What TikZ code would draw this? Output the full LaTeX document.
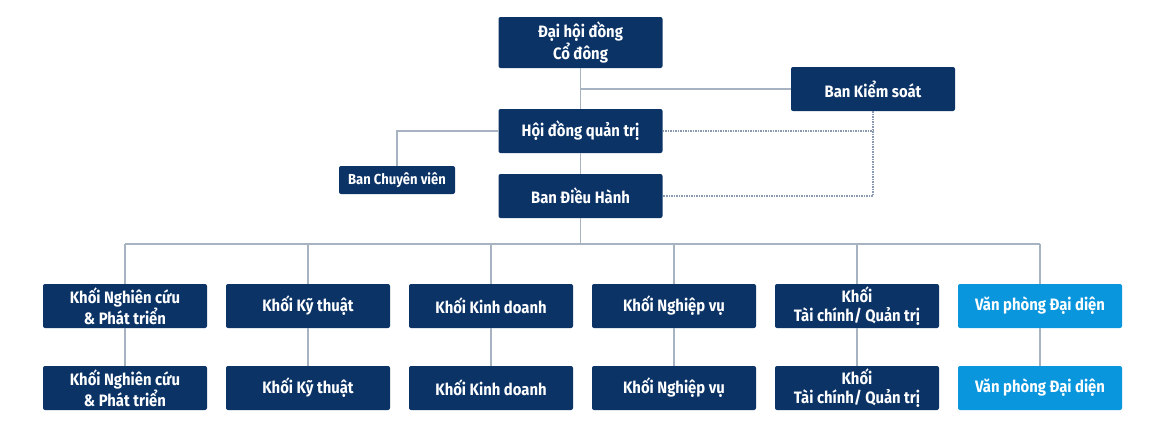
\documentclass[tikz,border=0pt]{standalone}
\usepackage{fontspec}
\setmainfont{Fira Sans}[FakeStretch=0.9]
\usepackage{tikz}
\definecolor{navy}{HTML}{0B3366}
\definecolor{sky}{HTML}{0A96DD}
\definecolor{linegrey}{HTML}{A8B3C1}
\tikzset{
  unit/.style={fill=navy, text=white, rounded corners=2pt, align=center,
    minimum width=164pt, minimum height=44pt, inner sep=0pt,
    font=\fontsize{16.5}{19}\selectfont\bfseries},
  dark/.style={unit},
  light/.style={unit, fill=sky},
  link/.style={draw=linegrey, line width=1.3pt},
  dotlink/.style={draw=linegrey!80!navy, line width=1.2pt, dash pattern=on 1.5pt off 1pt}
}

\begin{document}
\begin{tikzpicture}[x=1pt,y=-1pt]
   \useasboundingbox (0,0) rectangle (1167,440);
   \node[unit, minimum height=51pt] (dh) at (580.5,42.5) {Đại hội đồng\\Cổ đông};
   \node[unit] (hd) at (580.5,131) {Hội đồng quản trị};
   \node[unit] (bdh) at (580.5,196) {Ban Điều Hành};
   \node[unit] (bks) at (873,89) {Ban Kiểm soát};
   \node[unit, minimum width=116pt, minimum height=28pt, font=\fontsize{14.5}{17}\selectfont\bfseries] (bcv) at (397,180) {Ban Chuyên viên};
   \coordinate (bus) at (580.5,244);
   \foreach \i/\t/\c in {1/{Khối Nghiên cứu\\\& Phát triển}/dark, 2/{Khối Kỹ thuật}/dark,
       3/{Khối Kinh doanh}/dark, 4/{Khối Nghiệp vụ}/dark,
       5/{Khối\\Tài chính/ Quản trị}/dark, 6/{Văn phòng Đại diện}/light} {
       \node[\c] (r\i) at (125+183*\i-183,306) {\t};
       \node[\c] (s\i) at (125+183*\i-183,388) {\t};}
   % trunk
   \draw[link] (dh.south) -- (hd.north) (hd.south) -- (bdh.north) (bdh.south) -- (bus);
   \draw[link] (dh.south |- bks.west) -- (bks.west);
   \draw[link] (hd.west) -| (bcv.north);
   % control lines
   \draw[dotlink] (bks.south) |- (bdh.east);
   \draw[dotlink] (hd.east) -- (hd.east -| bks.south);
   % units
   \draw[link] (bus -| r1.north) -- (bus -| r6.north);
   \foreach \i in {1,...,6} {
       \draw[link] (bus -| r\i.north) -- (r\i.north) (r\i.south) -- (s\i.north);}
   \end{tikzpicture}
\end{document}
